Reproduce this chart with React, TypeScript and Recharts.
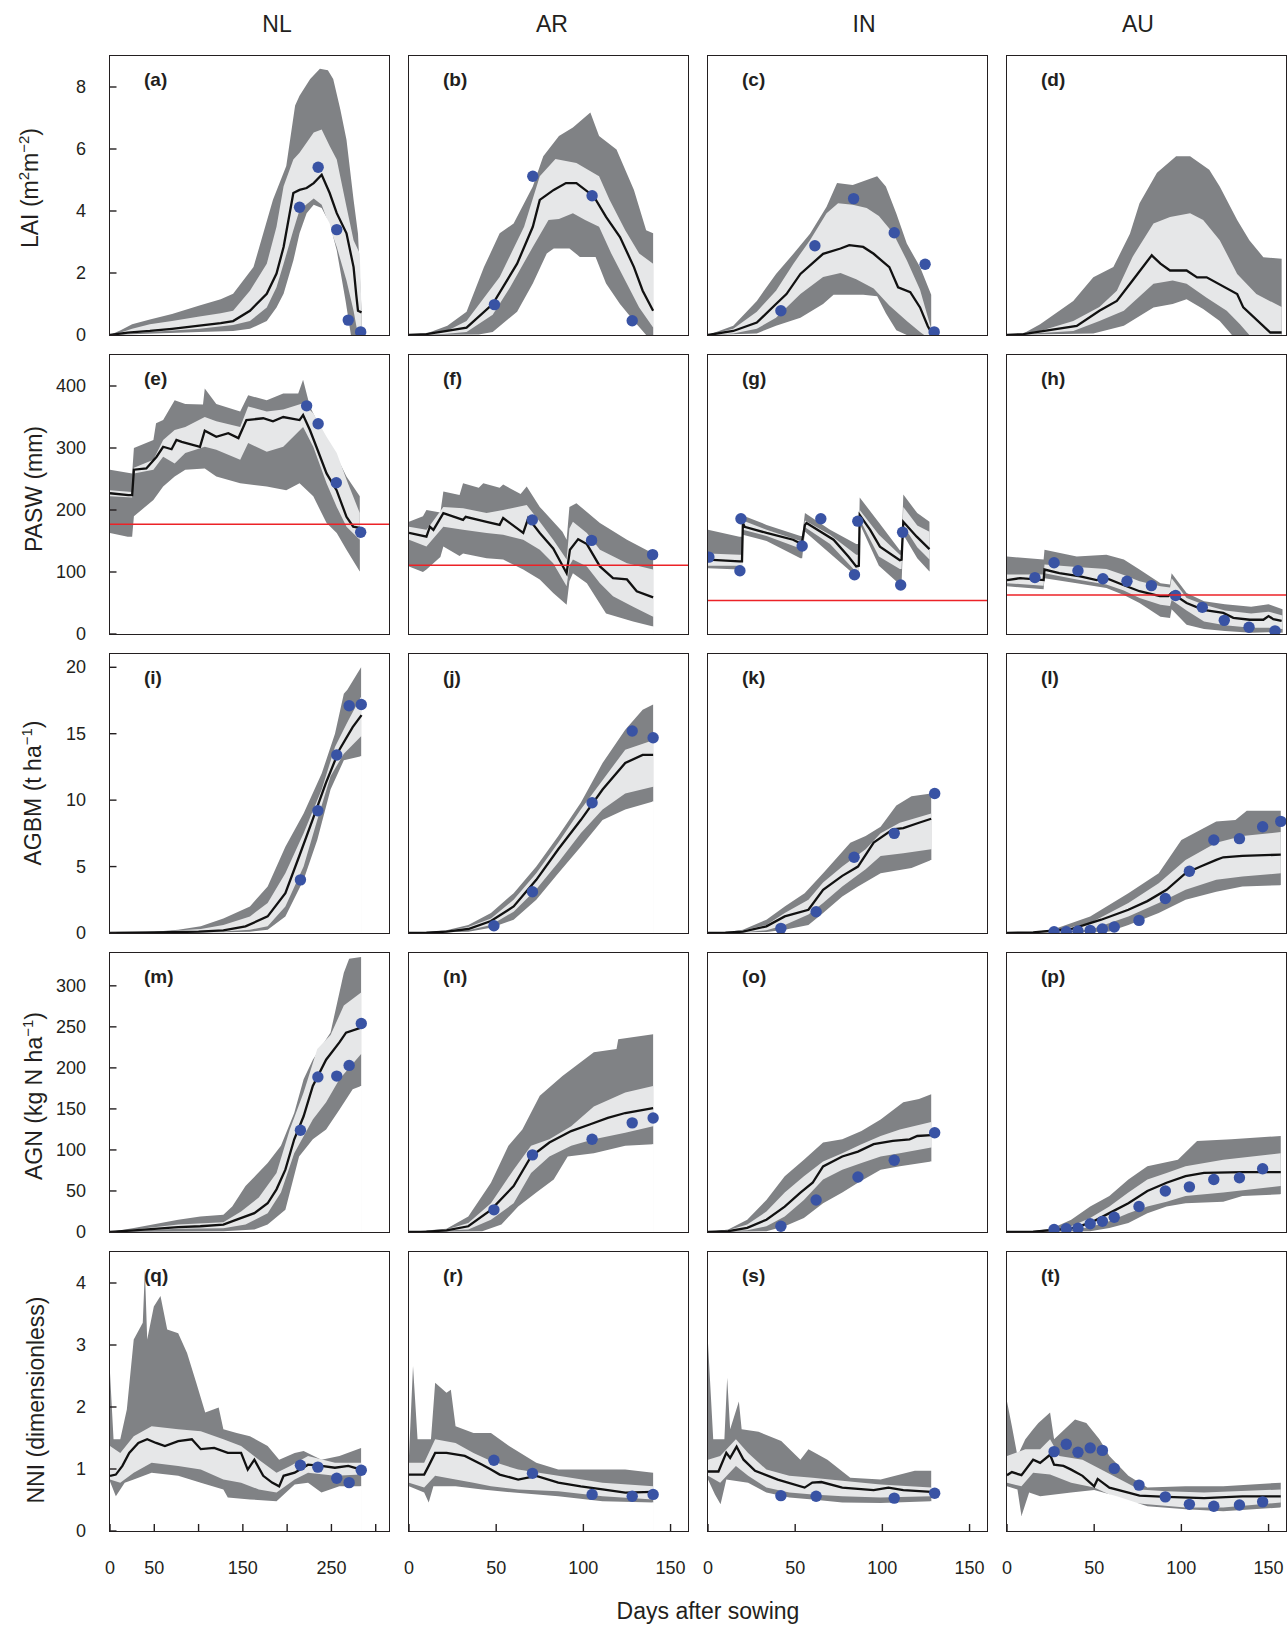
import React from 'react';
import { ComposedChart, Area, Line, Scatter, XAxis, YAxis, ReferenceLine } from 'recharts';

type P = [number, number][];

// ---------- Column / row axis settings ----------
const countries = ['NL', 'AR', 'IN', 'AU'];
const colXMax = [315, 160, 160, 160];
const colXTicks = [[0, 50, 100, 150, 200, 250, 300], [0, 50, 100, 150], [0, 50, 100, 150], [0, 50, 100, 150]];
const colXLabels = [[0, 50, 150, 250], [0, 50, 100, 150], [0, 50, 100, 150], [0, 50, 100, 150]];
const rowYMax = [9, 450, 21, 340, 4.5];
const rowYTicks = [[0, 2, 4, 6, 8], [0, 100, 200, 300, 400], [0, 5, 10, 15, 20], [0, 50, 100, 150, 200, 250, 300], [0, 1, 2, 3, 4]];
const panelLabels = ['a', 'b', 'c', 'd', 'e', 'f', 'g', 'h', 'i', 'j', 'k', 'l', 'm', 'n', 'o', 'p', 'q', 'r', 's', 't'];

// ---------- (a) NL LAI ----------
const aHi2: P = [[0,0],[12,0.15],[25,0.35],[45,0.5],[70,0.68],[101,0.95],[125,1.15],[139,1.33],[162,2.19],[184,4.36],[199,5.45],[209,7.4],[214,7.72],[226,8.26],[237,8.59],[246,8.54],[252,8.26],[260,7.28],[267,6.3],[275,4.36],[280,3.27],[284,0.76]];
const aHi1: P = [[0,0],[12,0.08],[25,0.2],[45,0.35],[70,0.45],[101,0.6],[125,0.7],[139,0.78],[158,1.43],[177,2.3],[188,3.49],[196,4.8],[207,5.66],[214,5.88],[230,6.53],[239,6.63],[248,6.1],[256,5.66],[267,4.14],[275,3.06],[282,2.63],[284,0.76]];
const aMed: P = [[0,0],[20,0.08],[45,0.13],[70,0.2],[101,0.3],[125,0.38],[139,0.45],[158,0.78],[177,1.33],[188,1.98],[196,2.84],[207,4.58],[214,4.68],[222,4.74],[230,4.9],[239,5.17],[248,4.58],[256,3.93],[267,3.28],[275,2.19],[278,1.3],[280,0.78],[284,0.73]];
const aLo1: P = [[0,0],[45,0.1],[101,0.2],[139,0.32],[158,0.45],[177,0.89],[188,1.54],[196,2.3],[207,3.38],[214,4.03],[230,4.4],[239,4.2],[248,3.49],[256,2.84],[267,1.76],[275,0.78],[280,0]];
const aLo2: P = [[0,0],[101,0.1],[139,0.13],[158,0.2],[177,0.45],[188,0.89],[196,1.33],[207,2.4],[214,3.28],[222,3.93],[230,4.2],[239,4.1],[248,3.6],[256,2.73],[266,1.1],[272,0]];
const aObs: P = [[214,4.12],[235,5.41],[256,3.4],[269,0.48],[283,0.1]];

// ---------- (b) AR LAI ----------
const bHi2: P = [[0,0],[10,0.05],[22,0.3],[33,0.75],[43,2.19],[52,3.28],[60,3.6],[71,4.79],[77,5.77],[86,6.42],[94,6.69],[104,7.18],[109,6.42],[119,5.98],[129,4.68],[136,3.38],[140,3.28]];
const bHi1: P = [[0,0],[10,0.03],[22,0.14],[33,0.45],[52,1.87],[66,3.49],[75,5.12],[84,5.68],[96,5.55],[109,5.12],[115,4.36],[124,3.38],[132,2.63],[140,2.3]];
const bMed: P = [[0,0],[10,0.03],[20,0.12],[33,0.24],[48,1.0],[62,2.3],[71,3.49],[75,4.36],[83,4.68],[90,4.9],[96,4.9],[106,4.47],[113,3.81],[121,3.16],[129,2.19],[134,1.43],[140,0.78]];
const bLo1: P = [[0,0],[20,0.03],[33,0.1],[48,0.65],[58,1.54],[71,2.84],[80,3.71],[86,3.74],[94,3.93],[101,3.71],[109,3.49],[116,2.63],[124,1.76],[132,0.89],[140,0.24]];
const bLo2: P = [[0,0],[40,0.02],[48,0.1],[62,0.75],[71,1.66],[79,2.63],[83,2.79],[92,2.79],[98,2.52],[107,2.52],[113,1.66],[121,1.0],[129,0.45],[136,0]];
const bObs: P = [[49,0.98],[71,5.12],[105,4.49],[128,0.46]];

// ---------- (c) IN LAI ----------
const cHi2: P = [[0,0],[14.5,0.3],[28,1.1],[39,1.97],[49,2.62],[58.5,3.27],[68,4.14],[74,4.9],[83,4.84],[91,5.0],[97,5.12],[102,4.79],[108,3.92],[114,2.95],[121.6,2.19],[128,1.3]];
const cHi1: P = [[0,0],[14.5,0.2],[28,0.75],[39,1.43],[49,2.3],[58.5,3.06],[68,3.93],[74.6,4.25],[83,4.2],[91,4.1],[98,3.84],[106,3.3],[114,2.41],[121.6,1.46],[128.5,0.1]];
const cMed: P = [[0,0],[14.5,0.13],[28,0.4],[39,1.0],[45,1.32],[53,1.97],[66,2.62],[76,2.79],[81,2.9],[89,2.84],[95,2.62],[104,2.19],[109,1.54],[116,1.38],[121.6,0.89],[126,0.29],[128.5,0.03]];
const cLo1: P = [[0,0],[14.5,0.05],[28,0.2],[39,0.56],[53,1.32],[66,1.87],[76,2.0],[85,1.8],[95,1.5],[104,0.95],[114,0.45],[121.6,0.1],[124,0]];
const cLo2: P = [[0,0],[28,0.05],[39,0.3],[53,0.56],[66,1.0],[72,1.3],[80,1.3],[89,1.3],[97,1.25],[102,0.7],[108,0.15],[114,0]];
const cObs: P = [[41.8,0.78],[61.3,2.88],[83.5,4.4],[106.8,3.3],[124.5,2.28],[129.7,0.1]];

// ---------- (d) AU LAI ----------
const dHi2: P = [[0,0],[9.4,0.05],[19,0.35],[38,1.1],[49.5,1.86],[61,2.19],[70.5,3.27],[76,4.25],[86,5.23],[97,5.77],[105,5.77],[116,5.33],[122,4.79],[132,3.71],[139,3.06],[147,2.51],[157.5,2.46]];
const dHi1: P = [[0,0],[19,0.13],[38,0.45],[53,0.9],[63,1.43],[72,2.52],[84,3.6],[93.5,3.81],[105,3.93],[112.5,3.71],[122,3.06],[132,1.97],[143,1.32],[157.5,0.9]];
const dMed: P = [[0,0],[9.4,0.03],[40,0.29],[53,0.78],[63,1.1],[72,1.76],[83,2.57],[88,2.3],[93.5,2.08],[103,2.08],[109,1.86],[114.5,1.86],[132,1.32],[135.5,0.89],[151,0.08],[157.5,0.08]];
const dLo1: P = [[0,0],[38,0.13],[53,0.45],[67,0.78],[84,1.65],[95,1.76],[103,1.65],[114.5,1.2],[126,0.78],[133.6,0.35],[139,0]];
const dLo2: P = [[0,0],[49.5,0.05],[67,0.3],[84,0.89],[95,1.0],[103,1.15],[112.5,0.84],[122,0.45],[129,0]];
const dObs: P = [];

// ---------- (e) NL PASW ----------
const eHi2: P = [[0,265],[25,259],[27,300],[49,313],[52,340],[60,345],[73,377],[85,371],[105,370],[107,396],[120,371],[147,359],[156,385],[177,377],[195.6,388],[212.5,388],[218,410],[225.7,367],[237,334],[252,297],[267,254],[282,222]];
const eHi1: P = [[0,232],[25,229],[27,268],[49,281],[60,313],[73,329],[85,334],[107,350],[120,343],[147,334],[156,367],[177,359],[195.6,362],[218,372],[229.5,356],[244.5,318],[256,292],[267,249],[282,195]];
const eMed: P = [[0,227],[20.7,224],[25,224],[27,265],[41,267],[52.6,286],[60,302],[69.5,298],[75,313],[81,310],[101.6,302],[107,328],[120,318],[133.5,324],[145,316],[154,345],[173,348],[184,343],[195.6,350],[214,345],[218,353],[225.7,329],[233,302],[244.5,259],[255.8,232],[267,189],[274.6,173],[282,171]];
const eLo1: P = [[0,222],[25,220],[27,259],[49,265],[60,286],[73,275],[85,292],[107,302],[120,297],[147,281],[156,308],[177,294],[195.6,302],[218,334],[229.5,302],[244.5,243],[256,205],[267,173],[282,152]];
const eLo2: P = [[0,163],[20,157],[25,157],[27,190],[49,216],[60,238],[73,254],[85,265],[107,267],[120,254],[147,243],[177,238],[199,232],[214,243],[229.5,222],[244.5,179],[256,163],[267,136],[282,101]];
const eObs: P = [[222,368],[235,339],[255.5,244],[283,164]];

// ---------- (f) AR PASW ----------
const fHi2: P = [[0,181],[8,190],[10,200],[18,196],[19.7,230],[29,224],[31,243],[40,236],[42.6,243],[52,236],[54,241],[64,226],[67.5,238],[75,205],[88,165],[90.4,152],[92,205],[96,211],[109.5,179],[125,152],[140,130]];
const fHi1: P = [[0,173],[10,168],[12,175],[19.7,205],[31,203],[44.5,195],[54,200],[67.5,208],[75,181],[82.7,152],[90.4,120],[92,170],[94,181],[102,163],[109.5,136],[125,114],[140,104]];
const fMed: P = [[0,163],[10,157],[12,173],[14,168],[19.7,195],[31,184],[32.5,189],[44.5,181],[52,176],[54,187],[65.5,163],[68.4,187],[75,163],[82.7,138],[90.4,98],[92.3,136],[97,153],[102,145],[109.5,109],[117,90],[125,88],[130.6,69],[140,59]];
const fLo1: P = [[0,152],[10,141],[19.7,173],[31,168],[44.5,163],[54,160],[65.5,152],[75,136],[82.7,114],[90.4,77],[92,110],[94,120],[102,109],[109.5,82],[117,61],[128.5,44],[140,28]];
const fLo2: P = [[0,109],[8,100],[10,104],[18,124],[19.7,141],[29,126],[31,130],[44.5,122],[54,120],[65.5,104],[75,88],[82.7,66],[90.4,47],[92,85],[94,98],[102,82],[113,33],[128.5,20],[140,12]];
const fObs: P = [[70.7,184],[104.7,151],[139.7,128]];

// ---------- (g) IN PASW ----------
const gHi2: P = [[0,168],[18,157],[19.5,157],[20,190],[21,190],[33.6,176],[53,158],[54,158],[55.6,195],[70,168],[85,145],[86.5,145],[87,220],[98,180],[110,135],[111,135],[112,225],[120,195],[127,181]];
const gHi1: P = [[0,130],[18,128],[19.5,128],[20,182],[21,182],[33.6,168],[53,150],[54,150],[55.6,183],[70,160],[85,128],[86.5,128],[87,200],[98,160],[110,128],[111,128],[112,205],[120,175],[127,165]];
const gMed: P = [[0,120],[18,117],[19.5,117],[20,179],[21,173],[33.6,163],[48.8,152],[53.7,145],[55.6,176],[56.5,179],[72,152],[80.5,125],[85,109],[86.5,110],[87,192],[93,168],[98.6,141],[110,119],[111,120],[112,181],[119.7,157],[127,137]];
const gLo1: P = [[0,110],[18,110],[19.5,110],[20,168],[33.6,158],[53,138],[54,138],[55.6,172],[70,145],[85,100],[86.5,100],[87,185],[98,125],[110,105],[111,105],[112,175],[120,140],[127,120]];
const gLo2: P = [[0,106],[18,104],[19.5,104],[20,160],[33.6,150],[53,122],[54,122],[55.6,165],[70,130],[85,93],[86.5,93],[87,178],[98,110],[110,80],[111,80],[112,160],[120,122],[127,101]];
const gObs: P = [[0.5,124],[18.3,102],[18.9,186],[54,142],[64.7,186],[84,95.5],[85.9,182],[110.5,79],[111.6,164]];

// ---------- (h) AU PASW ----------
const hHi2: P = [[0,125],[21,120],[21.5,136],[40,125],[57,128],[67,120],[76,104],[88,82],[93.5,80],[94.4,98],[103,66],[113,53],[125,48],[140,44],[150,48],[158,40]];
const hHi1: P = [[0,96],[21,96],[21.5,112],[40,108],[57,105],[67,95],[76,85],[88,77],[93.5,75],[94.4,90],[103,58],[113,47],[125,38],[140,33],[150,36],[158,30]];
const hMed: P = [[0,87],[7.5,90],[21,87],[21.5,104],[30,98],[42,93],[51.4,87],[57,90],[66.7,79],[76,69],[87.7,61],[92.5,61],[94.4,66],[103,50],[112.6,39],[124,34],[129.8,26],[139.3,23],[147,23],[150,29],[152.7,24],[157.5,21]];
const hLo1: P = [[0,82],[21,78],[21.5,98],[40,88],[57,80],[67,70],[76,58],[88,47],[93.5,45],[94.4,55],[103,38],[113,20],[125,14],[140,10],[150,10],[158,8]];
const hLo2: P = [[0,77],[21,72],[21.5,90],[40,82],[57,74],[67,63],[76,50],[88,28],[93.5,26],[94.4,40],[103,15],[113,8],[125,5],[140,2],[150,3],[158,2]];
const hObs: P = [[16,91],[27,115],[40.7,102],[55,89],[68.8,85],[82.8,78],[96.7,62],[112,43],[124.6,22],[138.8,11],[153.7,5]];

// ---------- (i) NL AGBM ----------
const iHi2: P = [[0,0],[50,0.1],[77,0.25],[102.5,0.5],[128,1.1],[158,2.0],[178,3.5],[198,6.5],[218.6,9.0],[239,12.0],[254,15.0],[264,18.0],[268,18.3],[283.5,20.0]];
const iHi1: P = [[0,0],[50,0.07],[102.5,0.3],[128,0.6],[158,1.25],[178,2.25],[198,4.5],[218.6,7.5],[239,10.8],[254,14.0],[269,16.0],[283.5,17.8]];
const iMed: P = [[0,0],[50,0.05],[100,0.1],[128,0.2],[153,0.5],[178,1.25],[198,3.0],[213.5,5.76],[228.6,8.5],[243.8,11.3],[259,13.8],[274,15.5],[284,16.4]];
const iLo1: P = [[0,0],[100,0.05],[128,0.12],[158,0.25],[178,0.5],[198,2.0],[218.6,5.0],[234,8.5],[249,11.8],[264,13.5],[283.5,14.8]];
const iLo2: P = [[0,0],[128,0.05],[158,0.1],[178,0.25],[198,1.25],[218.6,4.0],[234,7.0],[249,10.8],[264,13.0],[283.5,13.3]];
const iObs: P = [[215,4.0],[234.7,9.2],[256,13.4],[270,17.1],[283.7,17.2]];

// ---------- (j) AR AGBM ----------
const jHi2: P = [[0,0],[10,0.05],[21.5,0.2],[34,0.6],[47,1.5],[60,3.0],[73,5.0],[85.6,7.3],[98.5,9.8],[111,12.8],[124,15.3],[134,16.8],[140,17.2]];
const jHi1: P = [[0,0],[21.5,0.15],[34,0.45],[47,1.1],[60,2.5],[73,4.5],[85.6,6.8],[98.5,9.3],[111,11.5],[124,13.8],[140,14.5]];
const jMed: P = [[0,0],[10,0.03],[21.5,0.1],[34,0.3],[47,0.9],[60,2.0],[73,4.0],[85.6,6.3],[98.5,8.5],[111,10.8],[124,12.8],[134,13.4],[140,13.4]];
const jLo1: P = [[0,0],[21.5,0.05],[34,0.2],[47,0.6],[60,1.6],[73,3.3],[85.6,5.3],[98.5,7.5],[111,9.3],[124,10.5],[140,11.0]];
const jLo2: P = [[0,0],[34,0.1],[47,0.4],[60,1.0],[73,2.5],[85.6,4.5],[98.5,6.5],[111,8.5],[124,9.3],[140,9.9]];
const jObs: P = [[48.7,0.55],[70.8,3.1],[105,9.8],[128,15.2],[140,14.7]];

// ---------- (k) IN AGBM ----------
const kHi2: P = [[0,0],[10,0.05],[20,0.25],[33.5,1.0],[44,2.0],[55.4,3.0],[66,4.5],[81.6,6.8],[90.4,7.3],[99,8.0],[108,9.6],[116.7,10.3],[128,10.5]];
const kHi1: P = [[0,0],[20,0.18],[33.5,0.6],[44,1.5],[57.6,2.5],[66,3.8],[77,5.0],[90.4,6.3],[99,7.5],[110,8.3],[128,9.0]];
const kMed: P = [[0,0],[10,0.03],[20,0.1],[33.5,0.5],[44,1.25],[57.6,1.75],[66,3.25],[77,4.3],[86,5.0],[95,6.8],[106,7.8],[112,7.9],[121,8.3],[128,8.6]];
const kLo1: P = [[0,0],[20,0.05],[33.5,0.2],[44,0.6],[57.6,1.4],[66,2.25],[77,3.5],[90.4,4.8],[99,5.8],[112,6.0],[128,6.3]];
const kLo2: P = [[0,0],[33.5,0.08],[44,0.25],[57.6,0.6],[66,1.5],[77,2.75],[86,3.5],[99,4.5],[116.7,4.9],[128,5.5]];
const kObs: P = [[41.8,0.35],[62,1.6],[83.8,5.7],[106.8,7.5],[130,10.5]];

// ---------- (l) AU AGBM ----------
const lHi2: P = [[0,0],[15,0.08],[26,0.25],[47.7,1.25],[69.6,3.0],[87,4.5],[100,7.0],[120,8.4],[131,8.5],[137.5,9.2],[157,9.2]];
const lHi1: P = [[0,0],[26,0.12],[47.7,0.75],[69.6,2.25],[87,3.75],[102.4,5.5],[120,6.8],[135,7.3],[157,7.6]];
const lMed: P = [[0,0],[15,0.05],[36.8,0.3],[54,1.0],[69.6,1.75],[80.5,2.4],[91.5,3.25],[102.4,4.5],[111,5.0],[120,5.5],[124,5.7],[135,5.8],[157,5.9]];
const lLo1: P = [[0,0],[26,0.05],[47.7,0.25],[69.6,1.25],[87,2.25],[102.4,3.25],[120,4.0],[135,4.25],[157,4.5]];
const lLo2: P = [[0,0],[47.7,0.08],[58.7,0.12],[69.6,0.6],[87,1.5],[102.4,2.5],[120,3.1],[135,3.5],[157,3.6]];
const lObs: P = [[27,0.1],[34,0.1],[40.7,0.15],[47.7,0.2],[54.7,0.3],[61.5,0.45],[75.7,0.95],[90.8,2.6],[104.6,4.65],[118.6,7.0],[133.3,7.1],[146.6,8.0],[157,8.4]];

// ---------- (m) NL AGN ----------
const mHi2: P = [[0,0],[27,5],[77,15],[102,19],[128,21],[138,31],[153,56],[178,84],[193,105],[208,145],[218.6,186],[229,210],[249,243],[264,316],[270,333],[283.5,335]];
const mHi1: P = [[0,0],[27,3],[77,9],[128,12],[148,25],[168,42],[188,72],[203,125],[218.6,170],[234,223],[249,240],[264,276],[283.5,292]];
const mMed: P = [[0,0],[27,2],[77,6],[102,7],[128,9],[143,15],[163,23],[178,35],[188,52],[198,76],[208,113],[218.6,141],[229,178],[244,210],[259,231],[266.5,243],[283.5,249]];
const mLo1: P = [[0,0],[77,4],[128,4.5],[153,9],[178,23],[193,48],[208,96],[229,137],[244,158],[259,186],[283.5,217]];
const mLo2: P = [[0,0],[128,1],[163,3],[178,9],[198,27],[213.5,92],[229,113],[244,125],[259,149],[274,174],[283.5,178]];
const mObs: P = [[215,124],[234.7,189],[256,190],[270,203],[283.7,254]];

// ---------- (n) AR AGN ----------
const nHi2: P = [[0,0],[21.5,4],[34,19],[47,60],[57,105],[65,125],[75,166],[88,190],[106,219],[119,223],[120,235],[140,241]];
const nHi1: P = [[0,0],[21.5,3],[34,11],[47,35],[60,76],[70,105],[80.5,113],[93,129],[106,153],[124,170],[140,178]];
const nMed: P = [[0,0],[10,0.5],[21.5,2],[34,7],[47,27],[60,56],[70,92],[80.5,109],[93,123],[103.6,131],[114,139],[124,145],[140,151]];
const nLo1: P = [[0,0],[34,3],[47,15],[60,35],[70,72],[80.5,92],[93,105],[106,113],[124,121],[140,129]];
const nLo2: P = [[0,0],[42,1],[53,9],[62.6,31],[73,48],[83,64],[91,92],[106,96],[124,105],[140,107]];
const nObs: P = [[48.7,27],[70.8,94],[105,113],[128,133],[140,139]];

// ---------- (o) IN AGN ----------
const oHi2: P = [[0,0],[11.6,3],[22.5,15],[33.5,39],[44,68],[55,88],[66,109],[77,113],[88,123],[99,137],[112,158],[121,162],[128,168]];
const oHi1: P = [[0,0],[11.6,2],[22.5,9],[33.5,25],[44,48],[55,68],[66,86],[77,96],[88,107],[99,117],[110,125],[128,134]];
const oMed: P = [[0,0],[11.6,1],[22.5,5],[33.5,15],[44,31],[53,48],[60,60],[66,80],[77,92],[86,98],[95,107],[106,111],[115.6,113],[120,117],[128,118]];
const oLo1: P = [[0,0],[22.5,2],[33.5,7],[44,19],[55,39],[66,64],[77,76],[88,84],[99,92],[110,96],[128,103]];
const oLo2: P = [[0,0],[33.5,1],[44,7],[55,17],[66,35],[77,48],[86,60],[99,76],[110,80],[128,86]];
const oObs: P = [[41.8,7],[62,39],[86,67],[106.8,87.5],[130,121]];

// ---------- (p) AU AGN ----------
const pHi2: P = [[0,0],[15,1],[26,4.5],[36.8,15],[47.7,31],[58.7,44],[69.6,64],[80.5,80],[98,88],[109,111],[128.7,113],[157,117]];
const pHi1: P = [[0,0],[26,1],[36.8,7],[47.7,17],[58.7,31],[69.6,48],[80.5,64],[91.5,72],[102.4,80],[124,88],[157,96]];
const pMed: P = [[0,0],[15,0.5],[36.8,4],[47.7,11],[58.7,23],[69.6,35],[80.5,50],[91.5,60],[102.4,68],[113,72],[135,73],[157,73]];
const pLo1: P = [[0,0],[36.8,2],[47.7,6],[58.7,13],[69.6,23],[80.5,31],[91.5,37],[102.4,44],[124,48],[157,56]];
const pLo2: P = [[0,0],[47.7,1],[58.7,5],[69.6,11],[80.5,23],[91.5,31],[102.4,35],[124,37],[135,44],[157,46]];
const pObs: P = [[27,3],[34,4],[40.7,4.5],[47.7,10],[54.7,13],[61.5,18],[75.7,31],[90.8,50],[104.6,55],[118.6,64],[133.3,66],[146.6,77]];

// ---------- (q) NL NNI ----------
const qHi2: P = [[0,2.55],[4,1.48],[11.6,1.48],[19,1.96],[26.8,3.09],[37,3.36],[39.4,4.21],[42,3.09],[49.5,3.62],[57,3.79],[64.6,3.25],[77,3.19],[87,2.87],[97.4,2.39],[107.5,1.91],[122.7,1.99],[128,1.64],[143,1.58],[158,1.53],[178,1.37],[191,1.15],[208.5,1.26],[218.6,1.29],[238.7,1.15],[259,1.21],[283.5,1.34]];
const qHi1: P = [[0,1.37],[11.6,1.26],[26.8,1.53],[47,1.69],[77,1.64],[102.5,1.61],[128,1.48],[148,1.37],[168,1.15],[188,0.94],[203.5,1.05],[223.6,1.21],[254,1.1],[283.5,1.1]];
const qMed: P = [[0,0.89],[6.6,0.91],[14,1.05],[21.7,1.26],[32,1.42],[42,1.48],[52,1.42],[62,1.37],[77,1.45],[92.4,1.48],[102.5,1.32],[117.6,1.34],[133,1.26],[148,1.26],[155.5,0.99],[163,1.15],[173,0.89],[183,0.78],[191,0.72],[196,0.89],[208.5,0.94],[223.6,1.07],[238.7,1.05],[253.9,1.02],[269,1.05],[283.5,0.99]];
const qLo1: P = [[0,0.83],[11.6,0.78],[26.8,0.94],[47,1.1],[77,1.05],[102.5,0.99],[128,0.83],[148,0.78],[168,0.67],[188,0.62],[208.5,0.83],[223.6,0.94],[254,0.89],[283.5,0.91]];
const qLo2: P = [[0,0.8],[6.6,0.56],[16.6,0.78],[26.8,0.83],[47,0.94],[77,0.89],[102.5,0.78],[128,0.67],[133,0.54],[158,0.51],[188,0.48],[208.5,0.75],[223.6,0.78],[238.7,0.62],[259,0.72],[283.5,0.72]];
const qObs: P = [[215,1.06],[234.7,1.03],[256,0.85],[270,0.78],[283.7,0.98]];

// ---------- (r) AR NNI ----------
const rHi2: P = [[0,1.21],[2.3,2.66],[4.9,1.48],[12.6,1.48],[15,2.39],[21.5,2.23],[24,2.28],[26.7,1.69],[37,1.58],[47,1.58],[57.4,1.37],[73,1.1],[85.6,0.99],[111,0.99],[124,0.99],[140,0.94]];
const rHi1: P = [[0,1.1],[8.7,1.1],[15,1.48],[26.7,1.42],[37,1.26],[47,1.13],[62.6,0.99],[85.6,0.89],[111,0.78],[140,0.72]];
const rMed: P = [[0,0.91],[8.7,0.91],[11.3,1.05],[15,1.26],[21.5,1.26],[32,1.21],[42,1.07],[47,0.99],[52,0.91],[62.6,0.83],[73,0.89],[85.6,0.78],[98.5,0.72],[111,0.67],[124,0.62],[140,0.63]];
const rLo1: P = [[0,0.78],[8.7,0.7],[15,0.89],[26.7,0.83],[37,0.78],[47,0.72],[62.6,0.67],[85.6,0.64],[111,0.56],[140,0.51]];
const rLo2: P = [[0,0.72],[8.7,0.62],[11.3,0.46],[14,0.72],[26.7,0.72],[42,0.67],[60,0.62],[85.6,0.56],[111,0.48],[140,0.46]];
const rObs: P = [[48.7,1.14],[70.8,0.93],[105,0.59],[128,0.56],[140,0.59]];

// ---------- (s) IN NNI ----------
const sHi2: P = [[0,3.03],[3,1.48],[9.4,1.48],[11,2.47],[12.7,1.64],[17.7,2.09],[19.3,1.64],[29,1.6],[42,1.45],[53,1.15],[57.6,1.32],[68.5,1.15],[81.6,0.86],[99,0.83],[118.6,0.97],[128,0.97]];
const sHi1: P = [[0,1.15],[7,1.21],[16,1.48],[23,1.26],[33.5,0.99],[46.6,0.89],[60,0.86],[77,0.81],[99,0.75],[128,0.7]];
const sMed: P = [[0,0.96],[6,0.96],[10.5,1.26],[12.7,1.18],[16.4,1.36],[20.4,1.15],[27,0.97],[40,0.83],[55.4,0.7],[59.8,0.78],[65,0.79],[77,0.7],[95,0.66],[103.5,0.7],[112,0.66],[128,0.63]];
const sLo1: P = [[0,0.89],[7,0.78],[16,1.05],[23,0.89],[33.5,0.7],[46.6,0.62],[60,0.59],[77,0.56],[99,0.54],[128,0.56]];
const sLo2: P = [[0,0.83],[4,0.59],[7.2,0.43],[10.5,0.83],[23,0.78],[33.5,0.62],[46.6,0.54],[60,0.51],[77,0.46],[99,0.45],[128,0.48]];
const sObs: P = [[41.8,0.57],[62,0.56],[106.8,0.53],[130,0.61]];

// ---------- (t) AU NNI ----------
const tHi2: P = [[0,2.09],[2.8,1.69],[6,1.21],[10.5,1.48],[15,1.64],[18,1.74],[24.7,1.91],[27,1.48],[39,1.8],[45.5,1.74],[53,1.48],[58.7,1.21],[69.6,0.89],[80.5,0.7],[102.4,0.72],[124,0.72],[157,0.78]];
const tHi1: P = [[0,1.21],[10.5,1.32],[19,1.32],[24.7,1.48],[30,1.21],[43.3,1.15],[54,0.99],[65,0.83],[76,0.67],[91.5,0.64],[113,0.62],[157,0.67]];
const tMed: P = [[0,0.9],[2.8,0.95],[8.3,0.9],[15,1.15],[19,1.1],[24.7,1.23],[27,1.07],[32.4,1.05],[36.8,0.99],[43.3,0.89],[50,0.72],[52,0.84],[58.7,0.7],[69.6,0.62],[76,0.57],[91.5,0.55],[113,0.53],[135,0.56],[157,0.56]];
const tLo1: P = [[0,0.78],[8.3,0.72],[15,0.94],[24.7,0.91],[36.8,0.78],[50,0.7],[58.7,0.59],[69.6,0.46],[80.5,0.43],[102.4,0.38],[124,0.38],[157,0.46]];
const tLo2: P = [[0,0.72],[6,0.67],[8.3,0.24],[12.7,0.62],[19,0.56],[36.8,0.62],[50,0.66],[63,0.56],[80.5,0.4],[102.4,0.35],[124,0.32],[157,0.38]];
const tObs: P = [[27,1.28],[34,1.4],[40.7,1.27],[47.7,1.34],[54.7,1.3],[61.5,1.01],[75.7,0.74],[90.8,0.55],[104.6,0.43],[118.6,0.4],[133.3,0.42],[146.6,0.47]];

// Critical PASW thresholds (red lines) for row 2
const pasWThreshold = [177, 111, 54, 63];

// ---------- Styles ----------
const DARK = '#808285';
const LIGHT = '#e6e7e8';
const BLUE = '#3953a4';
const RED = '#ec2227';
const INK = '#231f20';
const FONT = '"Liberation Sans", Arial, Helvetica, sans-serif';

const colLefts = [110, 409, 708, 1007];
const rowTops = [56, 355, 654, 953, 1252];
const PW = 279;
const PH = 279;

type PanelDef = { hi2: P; hi1: P; med: P; lo1: P; lo2: P; obs: P };
const panels: PanelDef[] = [
  { hi2: aHi2, hi1: aHi1, med: aMed, lo1: aLo1, lo2: aLo2, obs: aObs },
  { hi2: bHi2, hi1: bHi1, med: bMed, lo1: bLo1, lo2: bLo2, obs: bObs },
  { hi2: cHi2, hi1: cHi1, med: cMed, lo1: cLo1, lo2: cLo2, obs: cObs },
  { hi2: dHi2, hi1: dHi1, med: dMed, lo1: dLo1, lo2: dLo2, obs: dObs },
  { hi2: eHi2, hi1: eHi1, med: eMed, lo1: eLo1, lo2: eLo2, obs: eObs },
  { hi2: fHi2, hi1: fHi1, med: fMed, lo1: fLo1, lo2: fLo2, obs: fObs },
  { hi2: gHi2, hi1: gHi1, med: gMed, lo1: gLo1, lo2: gLo2, obs: gObs },
  { hi2: hHi2, hi1: hHi1, med: hMed, lo1: hLo1, lo2: hLo2, obs: hObs },
  { hi2: iHi2, hi1: iHi1, med: iMed, lo1: iLo1, lo2: iLo2, obs: iObs },
  { hi2: jHi2, hi1: jHi1, med: jMed, lo1: jLo1, lo2: jLo2, obs: jObs },
  { hi2: kHi2, hi1: kHi1, med: kMed, lo1: kLo1, lo2: kLo2, obs: kObs },
  { hi2: lHi2, hi1: lHi1, med: lMed, lo1: lLo1, lo2: lLo2, obs: lObs },
  { hi2: mHi2, hi1: mHi1, med: mMed, lo1: mLo1, lo2: mLo2, obs: mObs },
  { hi2: nHi2, hi1: nHi1, med: nMed, lo1: nLo1, lo2: nLo2, obs: nObs },
  { hi2: oHi2, hi1: oHi1, med: oMed, lo1: oLo1, lo2: oLo2, obs: oObs },
  { hi2: pHi2, hi1: pHi1, med: pMed, lo1: pLo1, lo2: pLo2, obs: pObs },
  { hi2: qHi2, hi1: qHi1, med: qMed, lo1: qLo1, lo2: qLo2, obs: qObs },
  { hi2: rHi2, hi1: rHi1, med: rMed, lo1: rLo1, lo2: rLo2, obs: rObs },
  { hi2: sHi2, hi1: sHi1, med: sMed, lo1: sLo1, lo2: sLo2, obs: sObs },
  { hi2: tHi2, hi1: tHi1, med: tMed, lo1: tLo1, lo2: tLo2, obs: tObs },
];

const xy = (a: P) => a.map(([x, v]) => ({ x, v }));
// vertical closing edge of the lower band (drawn in white to hide anti-aliasing seams)
const closingEdge = (a: P) => {
  const [x, v] = a[a.length - 1];
  return v > 0 ? [{ x, v }, { x, v: 0 }] : [];
};

const YTick = (props: any) => {
  const { x, y, payload } = props;
  return (
    <g>
      <line x1={x} x2={x + 6.5} y1={y} y2={y} stroke={INK} strokeWidth={1.4} />
      <text x={x - 24} y={y} textAnchor="end" dominantBaseline="central" fontSize={18} fill={INK} fontFamily={FONT}>
        {payload.value}
      </text>
    </g>
  );
};

const makeXTick = (labels: number[]) => (props: any) => {
  const { x, y, payload } = props;
  return (
    <g>
      <line x1={x} x2={x} y1={y} y2={y - 7} stroke={INK} strokeWidth={1.4} />
      {labels.includes(payload.value) ? (
        <text x={x} y={y + 37} textAnchor="middle" dominantBaseline="central" fontSize={18} fill={INK} fontFamily={FONT}>
          {payload.value}
        </text>
      ) : null}
    </g>
  );
};

const Dot = (p: any) => <circle cx={p.cx} cy={p.cy} r={5.7} fill={BLUE} />;

function Panel({ r, c }: { r: number; c: number }) {
  const idx = r * 4 + c;
  const def = panels[idx];
  const left = colLefts[c];
  const top = rowTops[r];
  const showY = c === 0;
  const showX = r === 4;
  const yw = showY ? 60 : 0;
  const xh = showX ? 60 : 0;
  const red = r === 1 ? pasWThreshold[c] : undefined;
  const edge = closingEdge(def.lo2);
  return (
    <>
      <div style={{ position: 'absolute', left: left - yw, top }}>
        <ComposedChart width={PW + yw} height={PH + xh} margin={{ top: 0, right: 0, bottom: 0, left: 0 }}>
          <XAxis
            type="number"
            dataKey="x"
            domain={[0, colXMax[c]]}
            ticks={colXTicks[c]}
            allowDataOverflow
            hide={!showX}
            height={showX ? 60 : undefined}
            axisLine={false}
            tickLine={false}
            tickSize={0}
            tickMargin={0}
            interval={0}
            tick={makeXTick(colXLabels[c])}
          />
          <YAxis
            type="number"
            dataKey="v"
            domain={[0, rowYMax[r]]}
            ticks={rowYTicks[r]}
            allowDataOverflow
            hide={!showY}
            width={showY ? 60 : undefined}
            axisLine={false}
            tickLine={false}
            tickSize={0}
            tickMargin={0}
            interval={0}
            tick={YTick}
          />
          <Area data={xy(def.hi2)} dataKey="v" type="linear" fill={DARK} fillOpacity={1} stroke="none" isAnimationActive={false} dot={false} activeDot={false} />
          <Area data={xy(def.hi1)} dataKey="v" type="linear" fill={LIGHT} fillOpacity={1} stroke="none" isAnimationActive={false} dot={false} activeDot={false} />
          <Area data={xy(def.lo1)} dataKey="v" type="linear" fill={DARK} fillOpacity={1} stroke="none" isAnimationActive={false} dot={false} activeDot={false} />
          <Area data={xy(def.lo2)} dataKey="v" type="linear" fill="#ffffff" fillOpacity={1} stroke="none" isAnimationActive={false} dot={false} activeDot={false} />
          {edge.length ? (
            <Line data={edge} dataKey="v" type="linear" stroke="#ffffff" strokeWidth={1.6} dot={false} activeDot={false} isAnimationActive={false} />
          ) : null}
          <Line data={xy(def.med)} dataKey="v" type="linear" stroke="#111111" strokeWidth={2.3} dot={false} activeDot={false} isAnimationActive={false} />
          {red !== undefined ? (
            <ReferenceLine y={red} stroke={RED} strokeWidth={1.5} zIndex={700} />
          ) : null}
          {def.obs.length ? (
            <Scatter data={xy(def.obs)} dataKey="v" shape={Dot} isAnimationActive={false} />
          ) : null}
        </ComposedChart>
      </div>
      <div
        style={{
          position: 'absolute',
          left: left - 0.8,
          top: top - 0.8,
          width: PW + 1.6,
          height: PH + 1.6,
          border: `1.6px solid ${INK}`,
          boxSizing: 'border-box',
          pointerEvents: 'none',
        }}
      />
      <div
        style={{
          position: 'absolute',
          left: left + 34,
          top: top + 13,
          fontFamily: FONT,
          fontWeight: 'bold',
          fontSize: 19,
          lineHeight: '22px',
          color: INK,
          pointerEvents: 'none',
        }}
      >
        ({panelLabels[idx]})
      </div>
    </>
  );
}

const headerX = [277, 552, 864, 1138];
const yLabelCenters = [188, 489, 793, 1096, 1400];
const yLabelBase = [38, 42, 41, 42, 44];

export default function App() {
  const rows = [0, 1, 2, 3, 4];
  const cols = [0, 1, 2, 3];
  return (
    <div style={{ position: 'absolute', left: 0, top: 0, width: 1288, height: 1627, background: '#ffffff', overflow: 'hidden' }}>
      <style>{'.recharts-surface{overflow:visible !important;} .recharts-wrapper{overflow:visible !important;}'}</style>
      <svg width={1288} height={1627} style={{ position: 'absolute', left: 0, top: 0 }}>
        {countries.map((t, i) => (
          <text key={t} x={headerX[i]} y={23.5} textAnchor="middle" dominantBaseline="central" fontSize={23} fill={INK} fontFamily={FONT}>
            {t}
          </text>
        ))}
        <text x={708} y={1611} textAnchor="middle" dominantBaseline="central" fontSize={23} fill={INK} fontFamily={FONT}>
          Days after sowing
        </text>
        <g fontFamily={FONT} fontSize={23} fill={INK}>
          <text transform={`translate(${yLabelBase[0]},${yLabelCenters[0]}) rotate(-90)`} textAnchor="middle">
            LAI (m<tspan dy={-9} fontSize={15}>2</tspan><tspan dy={9}>m</tspan><tspan dy={-9} fontSize={15}>−2</tspan><tspan dy={9}>)</tspan>
          </text>
          <text transform={`translate(${yLabelBase[1]},${yLabelCenters[1]}) rotate(-90)`} textAnchor="middle">
            PASW (mm)
          </text>
          <text transform={`translate(${yLabelBase[2]},${yLabelCenters[2]}) rotate(-90)`} textAnchor="middle">
            AGBM (t ha<tspan dy={-9} fontSize={15}>−1</tspan><tspan dy={9}>)</tspan>
          </text>
          <text transform={`translate(${yLabelBase[3]},${yLabelCenters[3]}) rotate(-90)`} textAnchor="middle">
            AGN (kg N ha<tspan dy={-9} fontSize={15}>−1</tspan><tspan dy={9}>)</tspan>
          </text>
          <text transform={`translate(${yLabelBase[4]},${yLabelCenters[4]}) rotate(-90)`} textAnchor="middle">
            NNI (dimensionless)
          </text>
        </g>
      </svg>
      {rows.map((r) => cols.map((c) => <Panel key={`${r}-${c}`} r={r} c={c} />))}
    </div>
  );
}
